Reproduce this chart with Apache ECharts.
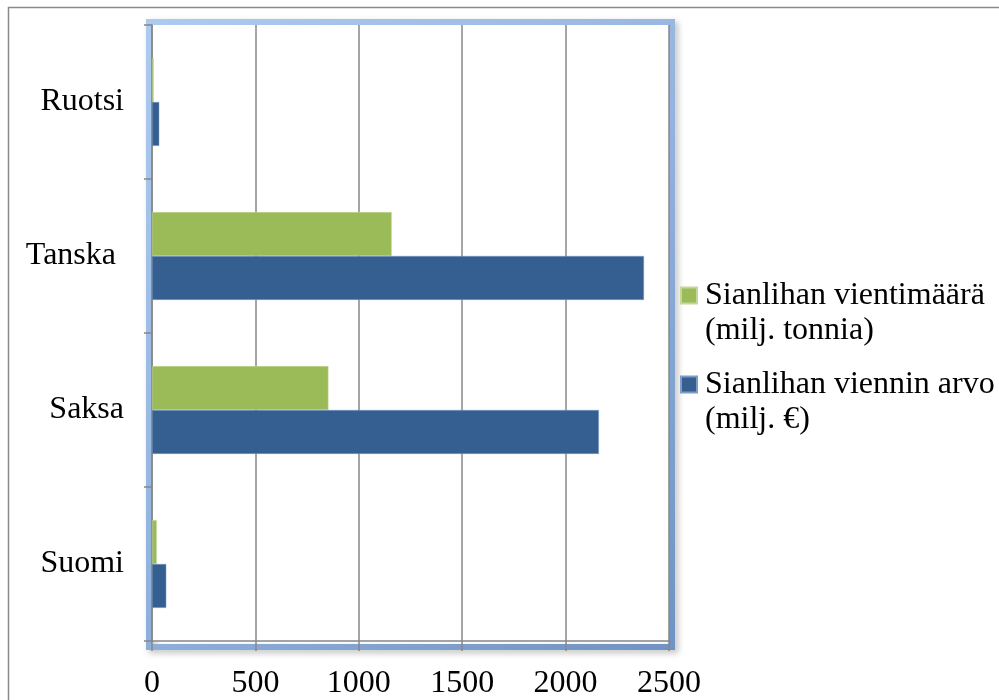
<!DOCTYPE html>
<html>
<head>
<meta charset="utf-8">
<script src="https://cdn.jsdelivr.net/npm/echarts@6/dist/echarts.min.js"></script>
<style>
    html, body { margin: 0; padding: 0; background: #fff; }
    #chart { width: 999px; height: 700px; }
</style>
</head>
<body>
<div id="chart"></div>
<script>
    // kategoriat alhaalta ylös
    let categories = ['Suomi', 'Saksa', 'Tanska ', 'Ruotsi']
    let volumeName = 'Sianlihan vientimäärä\n(milj. tonnia)'
    let valueName = 'Sianlihan viennin arvo\n(milj. €)'
    let volumeData = [23, 853, 1159, 8]
    let valueData = [69, 2161, 2379, 35]
    let xTicks = [0, 500, 1000, 1500, 2000, 2500]

    let font = '"Liberation Serif", "Times New Roman", serif'
    let gray = '#878787'
    let plot = { left: 152, top: 25, right: 669, bottom: 644 }

    let legendText = {
        fontFamily: font,
        fontSize: 32,
        color: '#000',
        lineHeight: 35,
        padding: [0, 0, 0, 3],
    }

    let option = {
        backgroundColor: '#fff',
        animation: false,
        grid: {
            left: plot.left,
            top: plot.top,
            right: 999 - plot.right,
            bottom: 700 - plot.bottom,
            show: true,
            backgroundColor: '#fff',
            borderWidth: 0,
        },
        graphic: [
            {
                // ulkokehys
                type: 'rect',
                z: -10,
                shape: { x: 8.5, y: 7.5, width: 1100, height: 800 },
                style: { fill: 'none', stroke: '#8a8a8a', lineWidth: 1.5 },
            },
            {
                // kuvaajan sininen kehys
                type: 'rect',
                z: -5,
                shape: {
                    x: plot.left - 3,
                    y: plot.top - 3,
                    width: plot.right - plot.left + 6,
                    height: plot.bottom - plot.top + 6,
                },
                style: {
                    fill: 'none',
                    lineWidth: 6,
                    stroke: {
                        type: 'linear', x: 0, y: 0, x2: 1, y2: 1,
                        colorStops: [
                            { offset: 0, color: '#adcbef' },
                            { offset: 0.5, color: '#93b4de' },
                            { offset: 1, color: '#6f93c2' },
                        ],
                    },
                    shadowColor: 'rgba(0,0,0,0.25)',
                    shadowBlur: 6,
                    shadowOffsetX: 3,
                    shadowOffsetY: 3,
                },
            },
        ],
        legend: [
            {
                orient: 'vertical',
                left: 680,
                top: 243,
                padding: 0,
                icon: 'rect',
                itemWidth: 16,
                itemHeight: 16,
                data: [volumeName],
                formatter: function (n) { return '\n' + n },
                textStyle: legendText,
            },
            {
                orient: 'vertical',
                left: 680,
                top: 332,
                padding: 0,
                icon: 'rect',
                itemWidth: 16,
                itemHeight: 16,
                data: [valueName],
                formatter: function (n) { return '\n' + n },
                textStyle: legendText,
            },
        ],
        xAxis: {
            type: 'value',
            min: 0,
            max: 2500,
            interval: 500,
            axisLine: { show: true, lineStyle: { color: gray, width: 1.5 } },
            axisTick: { show: true, length: 10, lineStyle: { color: gray, width: 1.5 } },
            splitLine: { show: true, lineStyle: { color: gray, width: 1.5 } },
            axisLabel: {
                fontFamily: font,
                fontSize: 32,
                color: '#000',
                margin: 27,
                formatter: function (v) {
                    return xTicks.indexOf(v) >= 0 ? String(v) : ''
                },
            },
        },
        yAxis: {
            type: 'category',
            data: categories,
            axisLine: { show: true, lineStyle: { color: gray, width: 1.5 } },
            axisTick: { show: true, length: 8, inside: false, lineStyle: { color: gray, width: 1.5 } },
            axisLabel: {
                fontFamily: font,
                fontSize: 32,
                color: '#000',
                margin: 28,
            },
        },
        series: [
            {
                name: volumeName,
                type: 'bar',
                data: volumeData,
                barGap: '0%',
                barCategoryGap: '43%',
                itemStyle: { color: '#9bbb59', borderColor: '#c3d69b', borderWidth: 0.5 },
            },
            {
                name: valueName,
                type: 'bar',
                data: valueData,
                barGap: '0%',
                barCategoryGap: '43%',
                itemStyle: { color: '#365f91', borderColor: '#7f9cc4', borderWidth: 0.5 },
            },
        ],
    }

    let myChart = echarts.init(document.getElementById('chart'))
    myChart.setOption(option)
</script>
</body>
</html>
